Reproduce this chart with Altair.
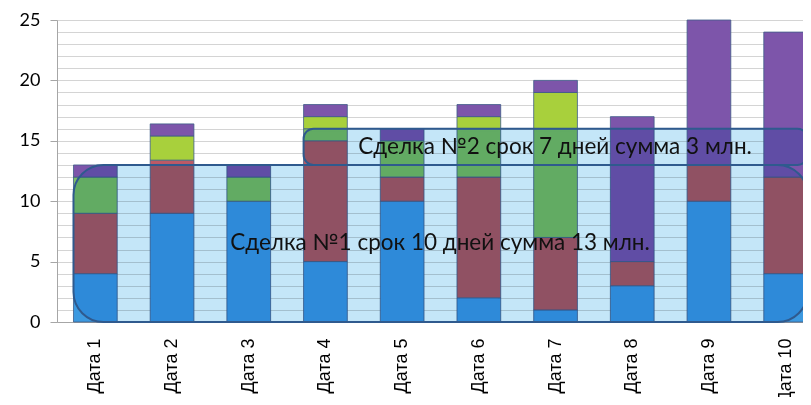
import altair as alt
import pandas as pd

categories = ["Дата 1", "Дата 2", "Дата 3", "Дата 4", "Дата 5",
              "Дата 6", "Дата 7", "Дата 8", "Дата 9", "Дата 10"]
series_names = ["Ряд1", "Ряд2", "Ряд3", "Ряд4", "Ряд5"]
blue = [4, 9, 10, 5, 10, 2, 1, 3, 10, 4]
red = [5, 4.4, 0, 10, 2, 10, 6, 2, 3, 8]
green = [3, 0, 2, 1, 3, 4, 9, 0, 0, 0]
ygreen = [0, 2, 0, 1, 0, 1, 3, 0, 0, 0]
purple = [1, 1, 1, 1, 1, 1, 1, 12, 12, 12]

series_colors = ["#3C99E0", "#BC5A66", "#7FBE66", "#A8D03C", "#7D55AA"]
highlight_colors = ["#7CC6F6", "#DC8C94", "#B0E096", "#D6F07E", "#A988D6"]

deal_start = ["Дата 1", "Дата 4"]
deal_end = ["Дата 10", "Дата 10"]
deal_low = [0, 13]
deal_high = [13, 16]
deal_text = ["Сделка №1 срок 10 дней сумма 13 млн.",
             "Сделка №2 срок 7 дней сумма 3 млн."]

rows = []
for si, (name, vals) in enumerate(zip(series_names, [blue, red, green, ygreen, purple])):
    for c, v in zip(categories, vals):
        if v > 0:
            rows.append({"cat": c, "series": name, "order": si, "value": v})
df = pd.DataFrame(rows)

deals = pd.DataFrame({"start": deal_start, "end": deal_end, "low": deal_low,
                      "high": deal_high, "text": deal_text, "id": [1, 2]})

xscale = alt.Scale(domain=categories, range=[0, 767], paddingInner=0.43, paddingOuter=0.215)
yscale = alt.Scale(domain=[0, 25], nice=False)

xaxis = alt.Axis(title=None, labelAngle=-90, labelFont="Liberation Sans",
                 labelFontSize=18, labelColor="#000000", labelPadding=16,
                 ticks=False, domainColor="#A6A6A6", labelLimit=200)
yaxis = alt.Axis(title=None, values=list(range(0, 26)),
                 labelExpr="datum.value % 5 === 0 ? datum.label : ''",
                 labelOverlap=False,
                 labelFont="Lato", labelFontSize=18, labelColor="#000000",
                 labelPadding=10, tickSize=7, tickColor="#A6A6A6",
                 tickOpacity={"condition": {"test": "datum.value % 5 === 0", "value": 1}, "value": 0},
                 grid=True, gridColor="#D4D4D4", domainColor="#A6A6A6")

base = alt.Chart(df).transform_stack(
    stack="value", groupby=["cat"], as_=["y0", "y1"],
    sort=[alt.SortField("order", order="ascending")]
)

bars = base.mark_bar(stroke="#3E5C88", strokeWidth=1, strokeOpacity=0.8).encode(
    x=alt.X("cat:N", scale=xscale, sort=categories, axis=xaxis),
    y=alt.Y("y0:Q", scale=yscale, axis=yaxis),
    y2="y1:Q",
    color=alt.Color("series:N", scale=alt.Scale(domain=series_names, range=series_colors), legend=None),
)

highlights = base.mark_tick(size=38, thickness=2, yOffset=2, orient="horizontal").encode(
    x=alt.X("cat:N", scale=xscale, sort=categories, axis=xaxis),
    y=alt.Y("y1:Q", scale=yscale, axis=yaxis),
    color=alt.Color("series:N", scale=alt.Scale(domain=series_names, range=highlight_colors), legend=None),
)

dbase = alt.Chart(deals)

def box(i, radius, **style):
    return dbase.transform_filter(alt.datum.id == i).mark_rect(
        cornerRadius=radius, **style).encode(
        x=alt.X("start:N", scale=xscale, sort=categories, bandPosition=0, axis=xaxis),
        x2=alt.X2("end:N", bandPosition=1),
        y=alt.Y("low:Q", scale=yscale, axis=yaxis), y2="high:Q")

def label(i, cat_expr, band, dx):
    return dbase.transform_filter(alt.datum.id == i).transform_calculate(
        mid="(datum.low + datum.high) / 2", anchor=cat_expr).mark_text(
        font="Lato", fontSize=22.5, color="#111111", dx=dx).encode(
        x=alt.X("anchor:N", scale=xscale, sort=categories, bandPosition=band, axis=xaxis),
        y=alt.Y("mid:Q", scale=yscale, axis=yaxis), text="text:N")

chart = alt.layer(
    bars, highlights,
    box(1, 30, fill="#C4E6F8", blend="multiply"),
    box(2, 10, fill="#C4E6F8", blend="multiply"),
    box(1, 30, fillOpacity=0, stroke="#2F5A8E", strokeWidth=2),
    box(2, 10, fillOpacity=0, stroke="#2F5A8E", strokeWidth=2),
    label(1, "'Дата 5'", 1.0, 16),
    label(2, "'Дата 7'", 0.49, 0),
).properties(
    width=746, height=302,
    autosize=alt.AutoSizeParams(type="none"),
    padding={"left": 49, "top": 12, "right": 0, "bottom": 75},
).configure_view(stroke=None).configure(background="#FFFFFF")

chart.save("out.html", embed_options={"renderer": "svg", "actions": False})
